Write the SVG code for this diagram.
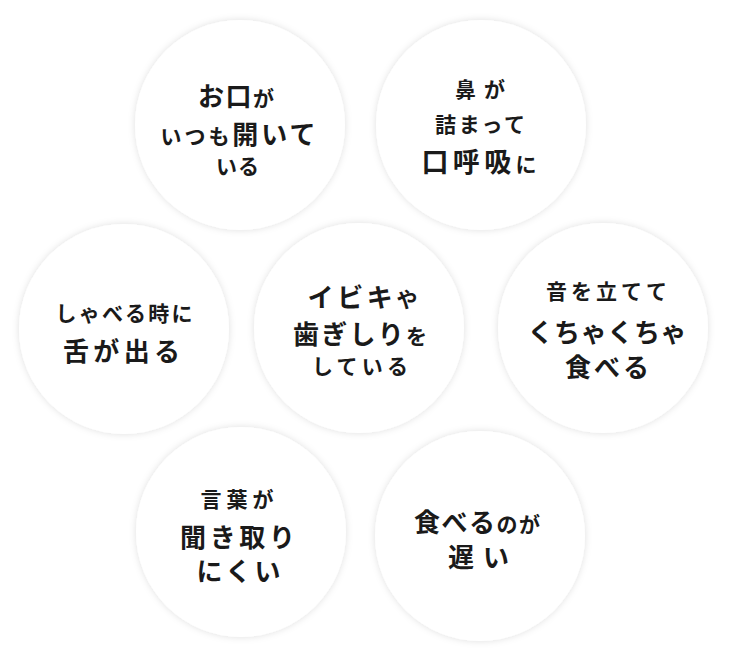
<svg xmlns="http://www.w3.org/2000/svg" width="729" height="662" viewBox="0 0 729 662">
<defs>
<filter id="sh" x="-20%" y="-20%" width="140%" height="140%">
<feDropShadow dx="0" dy="0" stdDeviation="3.5" flood-color="#000" flood-opacity="0.13"/>
</filter>
<style>
.c{fill:#fff;filter:url(#sh)}
.t{font-family:"Noto Sans CJK JP","Noto Sans CJK SC",sans-serif;font-weight:700;fill:#1a1a1a;text-anchor:middle}
.L{font-size:26px}
.X{font-size:27px}
.S{font-size:21px}
</style>
</defs>
<rect width="729" height="662" fill="#fff"/>
<g id="connectors"></g>
<g id="n1">
<circle class="c" cx="240" cy="125" r="105"/>
<text class="t" x="236" y="106" textLength="76" lengthAdjust="spacing"><tspan class="L">お口</tspan><tspan class="S">が</tspan></text>
<text class="t" x="238" y="144" textLength="155" lengthAdjust="spacing"><tspan class="S">いつも</tspan><tspan class="L">開いて</tspan></text>
<text class="t S" x="237.5" y="174" textLength="43" lengthAdjust="spacing">いる</text>
</g>
<g id="n2">
<circle class="c" cx="481" cy="125" r="105"/>
<text class="t S" x="480" y="97" textLength="50" lengthAdjust="spacing">鼻が</text>
<text class="t S" x="480" y="132" textLength="90" lengthAdjust="spacing">詰まって</text>
<text class="t" x="479" y="172" textLength="115" lengthAdjust="spacing"><tspan class="X">口呼吸</tspan><tspan class="S">に</tspan></text>
</g>
<g id="n3">
<circle class="c" cx="124" cy="329" r="105"/>
<text class="t S" x="124" y="321" textLength="137" lengthAdjust="spacing">しゃべる時に</text>
<text class="t L" x="121.5" y="361" textLength="117" lengthAdjust="spacing">舌が出る</text>
</g>
<g id="n4">
<circle class="c" cx="359" cy="328" r="105"/>
<text class="t" x="362.5" y="307" textLength="110" lengthAdjust="spacing"><tspan class="L">イビキ</tspan><tspan class="S">や</tspan></text>
<text class="t" x="360" y="344" textLength="134" lengthAdjust="spacing"><tspan class="L">歯ぎしり</tspan><tspan class="S">を</tspan></text>
<text class="t S" x="360" y="374" textLength="96" lengthAdjust="spacing">している</text>
</g>
<g id="n5">
<circle class="c" cx="603" cy="328" r="105"/>
<text class="t S" x="606.5" y="299" textLength="121" lengthAdjust="spacing">音を立てて</text>
<text class="t L" x="607" y="342" textLength="159" lengthAdjust="spacing">くちゃくちゃ</text>
<text class="t L" x="607" y="377" textLength="84" lengthAdjust="spacing">食べる</text>
</g>
<g id="n6">
<circle class="c" cx="241" cy="532" r="105"/>
<text class="t S" x="237" y="507" textLength="73" lengthAdjust="spacing">言葉が</text>
<text class="t L" x="237.5" y="547" textLength="115" lengthAdjust="spacing">聞き取り</text>
<text class="t L" x="238.5" y="581" textLength="84" lengthAdjust="spacing">にくい</text>
</g>
<g id="n7">
<circle class="c" cx="480" cy="536" r="105"/>
<text class="t" x="477" y="532" textLength="126" lengthAdjust="spacing"><tspan class="L">食べる</tspan><tspan class="S">のが</tspan></text>
<text class="t L" x="478.5" y="567" textLength="61" lengthAdjust="spacing">遅い</text>
</g>
</svg>
